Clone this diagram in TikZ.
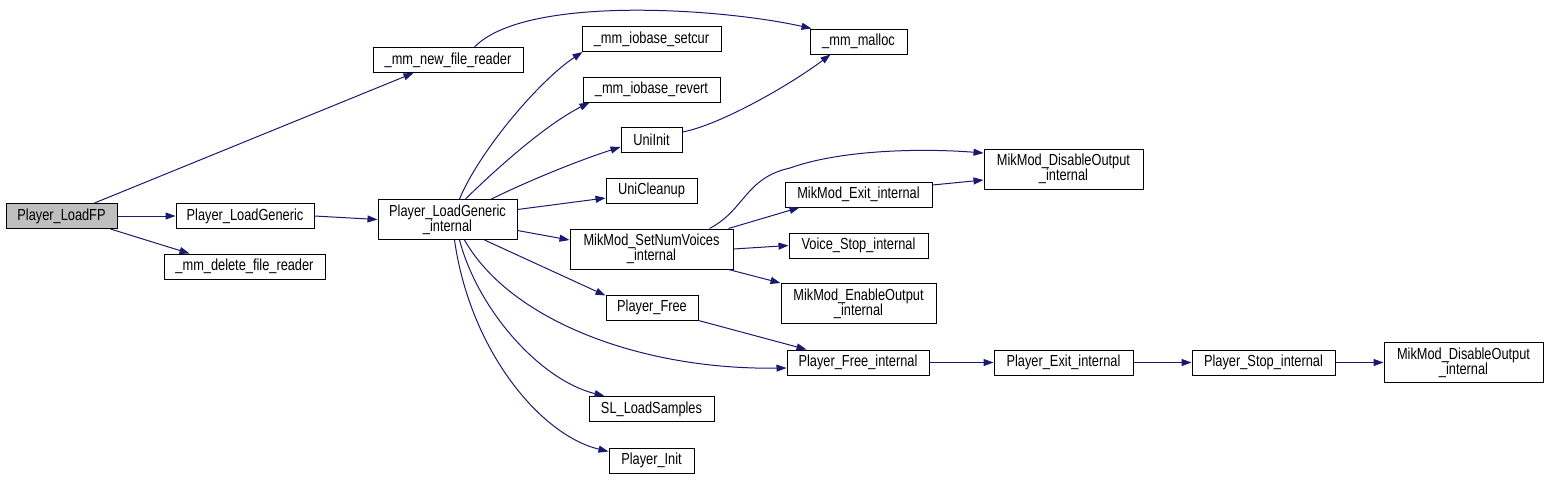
\documentclass[tikz,border=0pt]{standalone}
\usepackage{fontspec}
\setmainfont{Liberation Sans}[FakeStretch=0.8]
\usetikzlibrary{arrows.meta}
\definecolor{edgeblue}{HTML}{191970}
\definecolor{curgray}{HTML}{BFBFBF}
\tikzset{
  fn/.style   = {rectangle, draw=black, fill=white, line width=1pt, inner sep=0pt,
                 align=center, font=\fontsize{16}{15}\selectfont, minimum height=25pt},
  fntwo/.style= {fn, minimum height=40pt},
  cur/.style  = {fn, fill=curgray},
  call/.style = {-{Triangle[length=10pt,width=7pt]}, line width=1pt, draw=edgeblue},
}
\begin{document}
\begin{tikzpicture}[x=1pt,y=-1pt]
\useasboundingbox (0,0) rectangle (1549,479);
% caller
\node[cur, minimum width=111pt] (loadfp) at (61.5,216) {Player\_LoadFP};
% first level
\node[fn, minimum width=150pt] (newfr) at (448,60) {\_mm\_new\_file\_reader};
\node[fn, minimum width=138pt] (loadgen) at (245,216) {Player\_LoadGeneric};
\node[fn, minimum width=161pt] (delfr) at (244.5,266.5) {\_mm\_delete\_file\_reader};
\node[fntwo, minimum width=139pt] (lgint) at (447.5,219.5) {Player\_LoadGeneric\\\_internal};
% called by the generic loader
\node[fn, minimum width=139pt] (setcur) at (651.5,39) {\_mm\_iobase\_setcur};
\node[fn, minimum width=137pt] (revert) at (651.5,89.5) {\_mm\_iobase\_revert};
\node[fn, minimum width=61pt] (uniinit) at (651.5,140) {UniInit};
\node[fn, minimum width=91pt] (unicleanup) at (651.5,190.5) {UniCleanup};
\node[fntwo, minimum width=163pt] (numvoices) at (651.5,249) {MikMod\_SetNumVoices\\\_internal};
\node[fn, minimum width=92pt] (playerfree) at (652,307.5) {Player\_Free};
\node[fn, minimum width=125pt] (loadsamples) at (651.5,409) {SL\_LoadSamples};
\node[fn, minimum width=85pt] (playerinit) at (651.5,460.5) {Player\_Init};
% next column
\node[fn, minimum width=97pt] (malloc) at (858.5,41.5) {\_mm\_malloc};
\node[fn, minimum width=147pt] (exitint) at (858.5,194.5) {MikMod\_Exit\_internal};
\node[fn, minimum width=139pt] (voicestop) at (858.5,245.5) {Voice\_Stop\_internal};
\node[fntwo, minimum width=155pt] (enableout) at (858.5,303.5) {MikMod\_EnableOutput\\\_internal};
\node[fn, minimum width=142pt] (freeint) at (858,362.5) {Player\_Free\_internal};
% right part
\node[fntwo, minimum width=159pt] (disableA) at (1063.5,169) {MikMod\_DisableOutput\\\_internal};
\node[fn, minimum width=139pt] (exitpl) at (1063.5,362.5) {Player\_Exit\_internal};
\node[fn, minimum width=143pt] (stopint) at (1263.5,362.5) {Player\_Stop\_internal};
\node[fntwo, minimum width=159pt] (disableB) at (1463.5,362.5) {MikMod\_DisableOutput\\\_internal};
% calls
\draw[call] ([xshift=89pt]loadfp.north west) -- ([xshift=41pt]newfr.south west);
\draw[call] (loadfp.east) -- (loadgen.west);
\draw[call] ([xshift=-7pt]loadfp.south east) -- ([xshift=26pt]delfr.north west);
\draw[call] (loadgen.east) -- (lgint.west);
\draw[call] ([xshift=102pt]newfr.north west) .. controls (525,-5) and (720,8) .. ([xshift=2pt]malloc.north west);
\draw[call] ([xshift=82pt]lgint.north west) .. controls (480,150) and (540,80) .. ([xshift=1pt]setcur.south west);
\draw[call] ([xshift=88pt]lgint.north west) .. controls (495,170) and (545,125) .. ([xshift=7pt]revert.south west);
\draw[call] ([xshift=114pt]lgint.north west) .. controls (530,180) and (580,160) .. ([yshift=-7pt]uniinit.west);
\draw[call] ([yshift=10pt]lgint.east) -- ([yshift=-7.5pt]unicleanup.west);
\draw[call] ([yshift=-11pt]lgint.east) -- ([yshift=9pt]numvoices.west);
\draw[call] ([xshift=107pt]lgint.south west) -- ([yshift=-1pt]playerfree.north west);
\draw[call] ([xshift=87pt]lgint.south west) .. controls (510,320) and (640,370) .. ([yshift=-5.5pt]freeint.west);
\draw[call] ([xshift=82pt]lgint.south west) .. controls (478,310) and (540,380) .. ([xshift=16pt]loadsamples.north west);
\draw[call] ([xshift=77pt]lgint.south west) .. controls (470,350) and (540,435) .. ([yshift=-4pt]playerinit.north west);
\draw[call] ([yshift=8pt]uniinit.east) .. controls (720,125) and (790,85) .. ([xshift=-28pt]malloc.south);
\draw[call] ([xshift=140pt]numvoices.north west) .. controls (745,210) and (745,178) .. (790,168)
  .. controls (840,150) and (920,148) .. ([yshift=16pt]disableA.west);
\draw[call] ([xshift=-5pt]numvoices.north east) -- ([xshift=15pt]exitint.south west);
\draw[call] ([yshift=9.5pt]exitint.east) -- ([yshift=-11pt]disableA.west);
\draw[call] (numvoices.east) -- (voicestop.west);
\draw[call] ([xshift=-5pt]numvoices.south east) -- (enableout.north west);
\draw[call] (playerfree.south east) -- ([xshift=20pt]freeint.north west);
\draw[call] (freeint.east) -- (exitpl.west);
\draw[call] (exitpl.east) -- (stopint.west);
\draw[call] (stopint.east) -- (disableB.west);
\end{tikzpicture}
\end{document}
